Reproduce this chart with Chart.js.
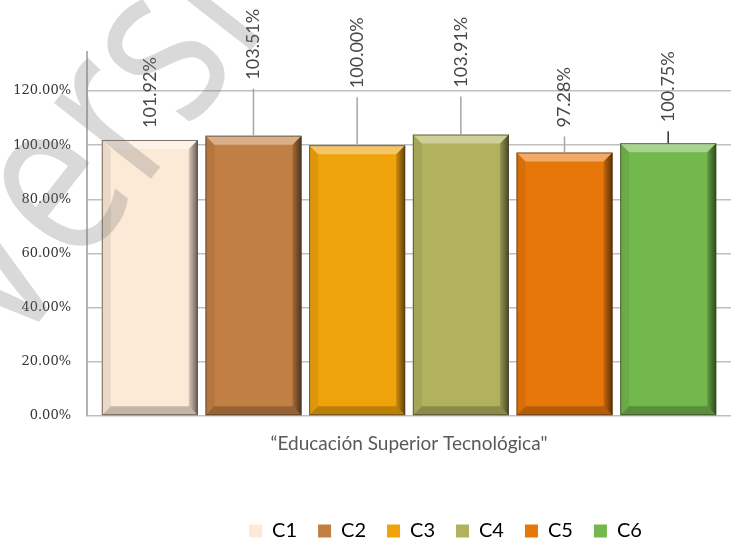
<!DOCTYPE html>
<html>
<head>
<meta charset="utf-8">
<title>Educación Superior Tecnológica</title>
<script src="https://cdn.jsdelivr.net/npm/chart.js@4.4.0/dist/chart.umd.min.js"></script>
<style>
  html, body { margin: 0; padding: 0; background: #fff; }
  #wrap { width: 731px; height: 542px; }
</style>
</head>
<body>
<div id="wrap"><canvas id="chart" width="731" height="542"></canvas></div>
<script>
// values
const categories = ["\u201cEducación Superior Tecnológica\""];
const seriesNames = ["C1", "C2", "C3", "C4", "C5", "C6"];
const seriesValues = [101.92, 103.51, 100.0, 103.91, 97.28, 100.75];
const yTicks = [0, 20, 40, 60, 80, 100, 120];

// styling
const seriesColors = ["#FCEAD7", "#C27F43", "#EFA30A", "#B2B25E", "#E8770A", "#73B84C"];
const labelLift = [12, 56, 57, 47, 25, 21]; // px between bar top and label
const leaderColors = ["#a6a6a6", "#a6a6a6", "#a6a6a6", "#a6a6a6", "#a6a6a6", "#333333"];

// bevelled look of the bars
const bevelPlugin = {
  id: "bevel",
  afterDatasetsDraw(chart) {
    const ctx = chart.ctx;
    const b = 9;
    chart.data.datasets.forEach((ds, i) => {
      chart.getDatasetMeta(i).data.forEach((el) => {
        const l = el.x - el.width / 2, r = el.x + el.width / 2;
        const t = el.y, bot = el.base;
        const poly = (pts, fill) => {
          ctx.beginPath();
          ctx.moveTo(pts[0][0], pts[0][1]);
          pts.slice(1).forEach((p) => ctx.lineTo(p[0], p[1]));
          ctx.closePath();
          ctx.fillStyle = fill;
          ctx.fill();
        };
        ctx.save();
        poly([[l, t], [r, t], [r - b, t + b], [l + b, t + b]], "rgba(255,255,255,0.38)");
        poly([[l, t], [l + b, t + b], [l + b, bot - b], [l, bot]], "rgba(0,0,0,0.07)");
        const g = ctx.createLinearGradient(r - b, 0, r, 0);
        g.addColorStop(0, "rgba(0,0,0,0.15)");
        g.addColorStop(1, "rgba(0,0,0,0.6)");
        poly([[r, t], [r, bot], [r - b, bot - b], [r - b, t + b]], g);
        poly([[l, bot], [r, bot], [r - b, bot - b], [l + b, bot - b]], "rgba(0,0,0,0.22)");
        ctx.strokeStyle = "rgba(70,60,50,0.7)";
        ctx.lineWidth = 1;
        ctx.strokeRect(l + 0.5, t + 0.5, el.width - 1, bot - t - 1);
        ctx.restore();
      });
    });
  }
};

// rotated value labels with leader lines
const valueLabelPlugin = {
  id: "valueLabels",
  afterDatasetsDraw(chart) {
    const ctx = chart.ctx;
    chart.data.datasets.forEach((ds, i) => {
      const el = chart.getDatasetMeta(i).data[0];
      const lift = labelLift[i];
      const yb = el.y - lift;
      ctx.save();
      if (lift > 20) {
        ctx.strokeStyle = leaderColors[i];
        ctx.lineWidth = 1.5;
        ctx.beginPath();
        ctx.moveTo(el.x, yb + 9);
        ctx.lineTo(el.x, el.y);
        ctx.stroke();
      }
      ctx.translate(el.x, yb);
      ctx.rotate(-Math.PI / 2);
      ctx.font = '18px "Lato"';
      ctx.fillStyle = "#474747";
      ctx.textAlign = "left";
      ctx.textBaseline = "middle";
      ctx.fillText(ds.data[0].toFixed(2) + "%", 0, 0);
      ctx.restore();
    });
  }
};

// watermark across the top-left corner
const watermarkPlugin = {
  id: "watermark",
  afterDraw(chart) {
    const ctx = chart.ctx;
    ctx.save();
    ctx.translate(10, 359);
    ctx.rotate(-52 * Math.PI / 180);
    ctx.scale(0.8, 1);
    ctx.font = '230px "Open Sans"';
    ctx.fillStyle = "rgba(120,120,120,0.28)";
    ctx.textBaseline = "alphabetic";
    ctx.fillText("Versión", 0, 0);
    ctx.restore();
  }
};

// nudge the legend row to where the reference has it
const legendShiftPlugin = {
  id: "legendShift",
  afterLayout(chart) {
    chart.legend.left += 80;
    chart.legend.right += 80;
  }
};

const datasets = seriesNames.map((name, i) => ({
  label: name,
  data: [seriesValues[i]],
  backgroundColor: seriesColors[i],
  borderWidth: 0,
  categoryPercentage: 0.966,
  barPercentage: 0.926
}));

const ctx = document.getElementById("chart").getContext("2d");

new Chart(ctx, {
  type: "bar",
  data: { labels: categories, datasets: datasets },
  options: {
    responsive: false,
    animation: false,
    layout: { padding: { top: 52, left: 0, right: 0, bottom: 0 } },
    plugins: {
      tooltip: { enabled: false },
      legend: {
        position: "bottom",
        maxHeight: 42,
        labels: {
          boxWidth: 13,
          boxHeight: 13,
          padding: 21,
          color: "#000",
          font: { family: "Lato", size: 20 }
        }
      }
    },
    scales: {
      x: {
        grid: { display: false },
        border: { display: false },
        ticks: {
          padding: 8,
          color: "#595959",
          font: { family: "Lato", size: 19 }
        },
        afterFit(scale) { scale.height = 84; }
      },
      y: {
        min: 0,
        max: 134.4,
        afterBuildTicks(scale) {
          scale.ticks = yTicks.map((v) => ({ value: v }));
        },
        grid: { color: "#bfbfbf", lineWidth: 1.5, drawTicks: false },
        border: { color: "#b3b3b3", width: 2 },
        ticks: {
          padding: 16,
          color: "#333",
          font: { family: "DejaVu Serif", size: 13 },
          callback: (v) => v.toFixed(2) + "%"
        },
        afterFit(scale) { scale.width = 87; }
      }
    }
  },
  plugins: [bevelPlugin, valueLabelPlugin, watermarkPlugin, legendShiftPlugin]
});
</script>
</body>
</html>
